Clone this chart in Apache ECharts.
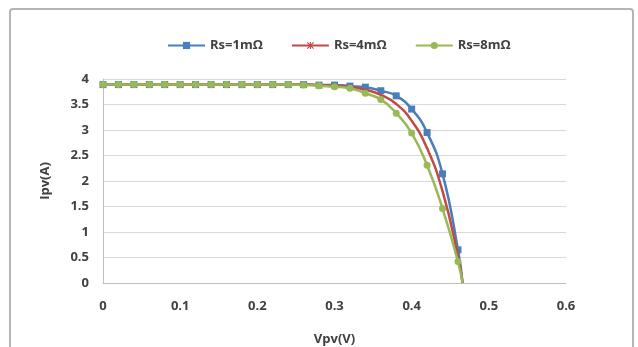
<!DOCTYPE html>
<html>
<head>
<meta charset="utf-8">
<script src="https://cdn.jsdelivr.net/npm/echarts@6/dist/echarts.min.js"></script>
<style>html,body{margin:0;padding:0;background:#fff;}#c{width:638px;height:347px;}</style>
</head>
<body>
<div id="c"></div>
<script>
var vpv = [0,0.02,0.04,0.06,0.08,0.10,0.12,0.14,0.16,0.18,0.20,0.22,0.24,0.26,0.28,0.30,0.32,0.34,0.36,0.38,0.40,0.42,0.44,0.46,0.466];
var ipvRs1 = [3.89,3.89,3.89,3.89,3.89,3.89,3.89,3.89,3.89,3.89,3.89,3.89,3.89,3.89,3.88,3.88,3.86,3.84,3.77,3.67,3.41,2.95,2.14,0.65,0];
var ipvRs4 = [3.89,3.89,3.89,3.89,3.89,3.89,3.89,3.89,3.89,3.89,3.89,3.89,3.89,3.89,3.88,3.87,3.85,3.79,3.69,3.51,3.18,2.64,1.80,0.53,0];
var ipvRs8 = [3.89,3.89,3.89,3.89,3.89,3.89,3.89,3.89,3.89,3.89,3.89,3.89,3.89,3.88,3.87,3.85,3.82,3.72,3.60,3.33,2.94,2.31,1.46,0.42,0];
var seriesNames = ['Rs=1mΩ','Rs=4mΩ','Rs=8mΩ'];
var xTitle = 'Vpv(V)';
var yTitle = 'Ipv(A)';

function pts(ys){
  return vpv.map(function(x,i){
    var p = {value:[x, ys[i]]};
    if (i === vpv.length-1) p.symbol = 'none';
    return p;
  });
}
var star = 'path://M4.2,0L5.8,0L5.8,10L4.2,10ZM0,1.1L1.1,0L10,8.9L8.9,10ZM8.9,0L10,1.1L1.1,10L0,8.9Z';
var font = '"Open Sans", "Liberation Sans", sans-serif';
var chart = echarts.init(document.getElementById('c'));
chart.setOption({
  animation:false,
  backgroundColor:'#fff',
  graphic:[{type:'rect', shape:{x:10,y:9,width:623,height:360,r:3}, style:{fill:'none', stroke:'#b5b5b5', lineWidth:2}, z:-1}],
  legend:{
    left:162, top:34, itemWidth:37, itemHeight:9, itemGap:28,
    textStyle:{fontFamily:font, fontWeight:'bold', fontSize:13, color:'#404040'},
    data:seriesNames
  },
  grid:{left:103, right:72, top:79, bottom:64, outerBoundsMode:'none', containLabel:false},
  xAxis:{
    type:'value', min:0, max:0.6, interval:0.1,
    name:xTitle, nameLocation:'middle', nameGap:50,
    nameTextStyle:{fontFamily:font, fontWeight:'bold', fontSize:13, color:'#404040'},
    axisLine:{show:true, lineStyle:{color:'#bfbfbf', width:1}},
    axisTick:{show:false},
    splitLine:{show:false},
    axisLabel:{margin:17, fontFamily:font, fontWeight:'bold', fontSize:13, color:'#404040'}
  },
  yAxis:{
    type:'value', min:0, max:4, interval:0.5,
    name:yTitle, nameLocation:'middle', nameGap:51, nameRotate:90,
    nameTextStyle:{fontFamily:font, fontWeight:'bold', fontSize:13, color:'#404040'},
    axisLine:{show:true, lineStyle:{color:'#bfbfbf', width:1}},
    axisTick:{show:false},
    splitLine:{show:true, lineStyle:{color:'#d9d9d9', width:1}},
    axisLabel:{margin:14, fontFamily:font, fontWeight:'bold', fontSize:13, color:'#404040'}
  },
  series:[
    {name:seriesNames[0], type:'line', data:pts(ipvRs1), smooth:0.5,
     symbol:'rect', symbolSize:7, color:'#4a7ebb', lineStyle:{width:2.5, color:'#4a7ebb'}, itemStyle:{color:'#4a7ebb'}, z:2},
    {name:seriesNames[1], type:'line', data:pts(ipvRs4), smooth:0.5,
     symbol:star, symbolSize:7, showSymbol:false, color:'#be4b48', lineStyle:{width:2.5, color:'#be4b48'}, itemStyle:{color:'#be4b48'}, z:3},
    {name:seriesNames[2], type:'line', data:pts(ipvRs8), smooth:0.5,
     symbol:'circle', symbolSize:7, color:'#98b954', lineStyle:{width:2.5, color:'#98b954'}, itemStyle:{color:'#98b954'}, z:4}
  ]
});
</script>
</body>
</html>
